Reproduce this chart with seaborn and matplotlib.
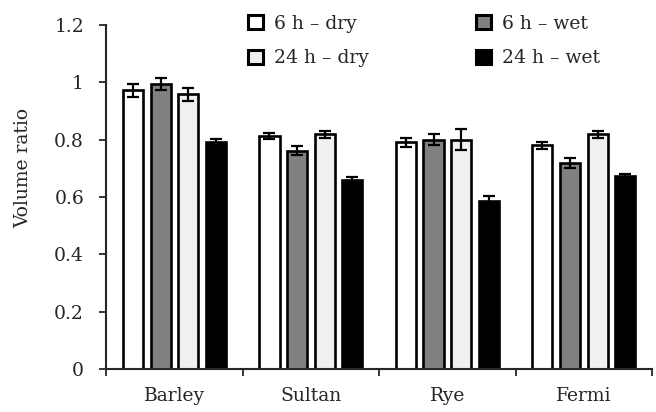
import pandas as pd
import numpy as np
import matplotlib
matplotlib.use("Agg")
import matplotlib.pyplot as plt
import seaborn as sns

# data
cultivars = ["Barley", "Sultan", "Rye", "Fermi"]
treatments = ["6 h \u2013 dry", "6 h \u2013 wet", "24 h \u2013 dry", "24 h \u2013 wet"]
dry_6h = [0.973, 0.812, 0.791, 0.781]
wet_6h = [0.994, 0.762, 0.801, 0.720]
dry_24h = [0.959, 0.820, 0.800, 0.820]
wet_24h = [0.792, 0.660, 0.588, 0.674]
err_dry_6h = [0.023, 0.010, 0.016, 0.012]
err_wet_6h = [0.022, 0.015, 0.020, 0.017]
err_dry_24h = [0.022, 0.012, 0.037, 0.012]
err_wet_24h = [0.010, 0.012, 0.015, 0.008]
bar_colors = ["#ffffff", "#808080", "#f0f0f0", "#000000"]

values = [dry_6h, wet_6h, dry_24h, wet_24h]
errors = [err_dry_6h, err_wet_6h, err_dry_24h, err_wet_24h]

df = pd.DataFrame({
    "cultivar": np.repeat([cultivars], 4, axis=0).ravel(),
    "treatment": np.repeat(treatments, len(cultivars)),
    "ratio": np.ravel(values),
})

sns.set_style("ticks")
plt.rcParams["font.family"] = ["DejaVu Serif"]
fs = 13.5

fig = plt.figure(figsize=(6.56, 4.12), dpi=100)
ax = fig.add_axes([0.162, 0.104, 0.832, 0.835])

sns.barplot(data=df, x="cultivar", y="ratio", hue="treatment",
            order=cultivars, hue_order=treatments, palette=bar_colors,
            edgecolor="black", linewidth=1.9, width=0.81, gap=0.27,
            errorbar=None, ax=ax)

# error bars at the bar tops
for cont, errs in zip(ax.containers, errors):
    xs = [b.get_x() + b.get_width() / 2 for b in cont]
    hs = [b.get_height() for b in cont]
    ax.errorbar(xs, hs, yerr=errs, fmt="none", ecolor="black",
                elinewidth=1.6, capsize=4.5, capthick=1.6, zorder=5)

ax.set_ylim(0, 1.2)
ax.set_yticks([0, 0.2, 0.4, 0.6, 0.8, 1.0, 1.2])
ax.set_yticklabels(["0", "0.2", "0.4", "0.6", "0.8", "1", "1.2"])
ax.set_xlim(-0.5, 3.5)
ax.set_xticks([-0.5, 0.5, 1.5, 2.5, 3.5])
ax.set_xticklabels([])
ax.set_xticks(range(len(cultivars)), minor=True)
ax.set_xticklabels(cultivars, minor=True)
ax.tick_params(axis="x", which="minor", length=0, pad=13, labelsize=fs)
ax.tick_params(axis="x", which="major", length=5, width=1.3, direction="out")
ax.tick_params(axis="y", length=5, width=1.3, labelsize=fs, pad=11)
ax.set_xlabel("")
ax.set_ylabel("Volume ratio", fontsize=fs)
ax.yaxis.set_label_coords(-0.136, 0.584)
for s in ["left", "bottom"]:
    ax.spines[s].set_linewidth(1.5)
sns.despine(ax=ax)

h, l = ax.get_legend_handles_labels()
ax.legend_.remove()
for p in h:
    p.set_linewidth(2.2)
order = [0, 2, 1, 3]
fig.legend([h[i] for i in order], [l[i] for i in order], ncol=2,
           loc="upper left", bbox_to_anchor=(0.352, 1.005), frameon=False,
           fontsize=fs, handlelength=0.8, handleheight=0.8,
           handletextpad=0.6, columnspacing=5.7, labelspacing=0.88)

fig.savefig("out.png", dpi=100)
